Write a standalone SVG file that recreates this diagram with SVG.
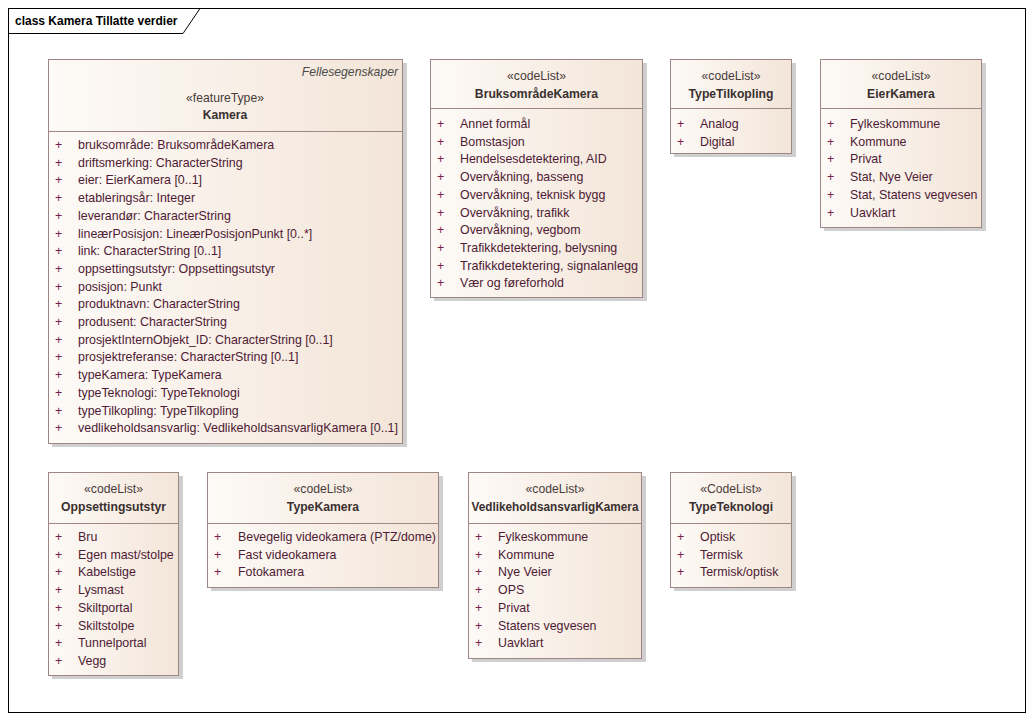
<svg xmlns="http://www.w3.org/2000/svg" width="1034" height="721" viewBox="0 0 1034 721">
<style>
.frame{fill:#ffffff;stroke:#000000;stroke-width:1}
.box{fill:url(#g);stroke:#9e8686;stroke-width:1}
.shadow{fill:#cfcfcf}
.sep{stroke:#9e8686;stroke-width:1}
text{font-family:"Liberation Sans",Arial,sans-serif;font-size:12.4px;fill:#4e1a34}
.title{font-weight:bold;fill:#000000;font-size:12px}
.st{text-anchor:middle;fill:#4a3a3a;font-size:12.2px}
.nm{text-anchor:middle;font-weight:bold;fill:#3a3030;font-size:12.2px}
.it{font-style:italic;text-anchor:end;fill:#4a4a4a;font-size:12.2px}
.pl{fill:#7a1f4a}
</style>
<defs>
<linearGradient id="g" x1="0" y1="0" x2="1" y2="0">
<stop offset="0" stop-color="#fdfaf7"/>
<stop offset="1" stop-color="#f3e5d8"/>
</linearGradient>
</defs>
<rect class="frame" x="8.5" y="8.5" width="1017" height="704"/>
<path d="M8.5 33.5 H183 L200 8.5" fill="none" stroke="#000" stroke-width="1"/>
<text class="title" x="15" y="25">class Kamera Tillatte verdier</text>

<g id="Kamera">
<rect class="shadow" x="52" y="63" width="355" height="384"/>
<rect class="box" x="48.5" y="59.5" width="354" height="384"/>
<line class="sep" x1="48.5" y1="131.5" x2="402.5" y2="131.5"/>
<text class="it" x="398" y="76">Fellesegenskaper</text>
<text class="st" x="225" y="102">«featureType»</text>
<text class="nm" x="225" y="119">Kamera</text>
<text class="pl" x="55" y="149">+</text><text class="pl" x="55" y="166.7">+</text><text class="pl" x="55" y="184.4">+</text><text class="pl" x="55" y="202.1">+</text><text class="pl" x="55" y="219.8">+</text><text class="pl" x="55" y="237.5">+</text><text class="pl" x="55" y="255.2">+</text><text class="pl" x="55" y="272.9">+</text><text class="pl" x="55" y="290.6">+</text><text class="pl" x="55" y="308.3">+</text><text class="pl" x="55" y="326">+</text><text class="pl" x="55" y="343.7">+</text><text class="pl" x="55" y="361.4">+</text><text class="pl" x="55" y="379.1">+</text><text class="pl" x="55" y="396.8">+</text><text class="pl" x="55" y="414.5">+</text><text class="pl" x="55" y="432.2">+</text>
<text x="78" y="149">bruksområde: BruksområdeKamera</text>
<text x="78" y="166.7">driftsmerking: CharacterString</text>
<text x="78" y="184.4">eier: EierKamera [0..1]</text>
<text x="78" y="202.1">etableringsår: Integer</text>
<text x="78" y="219.8">leverandør: CharacterString</text>
<text x="78" y="237.5">lineærPosisjon: LineærPosisjonPunkt [0..*]</text>
<text x="78" y="255.2">link: CharacterString [0..1]</text>
<text x="78" y="272.9">oppsettingsutstyr: Oppsettingsutstyr</text>
<text x="78" y="290.6">posisjon: Punkt</text>
<text x="78" y="308.3">produktnavn: CharacterString</text>
<text x="78" y="326">produsent: CharacterString</text>
<text x="78" y="343.7">prosjektInternObjekt_ID: CharacterString [0..1]</text>
<text x="78" y="361.4">prosjektreferanse: CharacterString [0..1]</text>
<text x="78" y="379.1">typeKamera: TypeKamera</text>
<text x="78" y="396.8">typeTeknologi: TypeTeknologi</text>
<text x="78" y="414.5">typeTilkopling: TypeTilkopling</text>
<text x="78" y="432.2" textLength="320" lengthAdjust="spacingAndGlyphs">vedlikeholdsansvarlig: VedlikeholdsansvarligKamera [0..1]</text>
</g>

<g id="BruksomradeKamera">
<rect class="shadow" x="434" y="63" width="213" height="238"/>
<rect class="box" x="430.5" y="59.5" width="212" height="238"/>
<line class="sep" x1="430.5" y1="108.5" x2="642.5" y2="108.5"/>
<text class="st" x="536.5" y="80">«codeList»</text>
<text class="nm" x="536.5" y="98">BruksområdeKamera</text>
<text class="pl" x="437" y="128">+</text><text x="460" y="128">Annet formål</text>
<text class="pl" x="437" y="145.7">+</text><text x="460" y="145.7">Bomstasjon</text>
<text class="pl" x="437" y="163.4">+</text><text x="460" y="163.4">Hendelsesdetektering, AID</text>
<text class="pl" x="437" y="181.1">+</text><text x="460" y="181.1">Overvåkning, basseng</text>
<text class="pl" x="437" y="198.8">+</text><text x="460" y="198.8">Overvåkning, teknisk bygg</text>
<text class="pl" x="437" y="216.5">+</text><text x="460" y="216.5">Overvåkning, trafikk</text>
<text class="pl" x="437" y="234.2">+</text><text x="460" y="234.2">Overvåkning, vegbom</text>
<text class="pl" x="437" y="251.9">+</text><text x="460" y="251.9">Trafikkdetektering, belysning</text>
<text class="pl" x="437" y="269.6">+</text><text x="460" y="269.6" textLength="178" lengthAdjust="spacingAndGlyphs">Trafikkdetektering, signalanlegg</text>
<text class="pl" x="437" y="287.3">+</text><text x="460" y="287.3">Vær og føreforhold</text>
</g>

<g id="TypeTilkopling">
<rect class="shadow" x="674" y="63" width="122" height="94"/>
<rect class="box" x="670.5" y="59.5" width="121" height="94"/>
<line class="sep" x1="670.5" y1="108.5" x2="791.5" y2="108.5"/>
<text class="st" x="731" y="80">«codeList»</text>
<text class="nm" x="731" y="98">TypeTilkopling</text>
<text class="pl" x="677" y="128">+</text><text x="700" y="128">Analog</text>
<text class="pl" x="677" y="145.7">+</text><text x="700" y="145.7">Digital</text>
</g>

<g id="EierKamera">
<rect class="shadow" x="824" y="63" width="162" height="168"/>
<rect class="box" x="820.5" y="59.5" width="161" height="168"/>
<line class="sep" x1="820.5" y1="108.5" x2="981.5" y2="108.5"/>
<text class="st" x="901" y="80">«codeList»</text>
<text class="nm" x="901" y="98">EierKamera</text>
<text class="pl" x="827" y="128">+</text><text x="850" y="128">Fylkeskommune</text>
<text class="pl" x="827" y="145.7">+</text><text x="850" y="145.7">Kommune</text>
<text class="pl" x="827" y="163.4">+</text><text x="850" y="163.4">Privat</text>
<text class="pl" x="827" y="181.1">+</text><text x="850" y="181.1">Stat, Nye Veier</text>
<text class="pl" x="827" y="198.8">+</text><text x="850" y="198.8">Stat, Statens vegvesen</text>
<text class="pl" x="827" y="216.5">+</text><text x="850" y="216.5">Uavklart</text>
</g>

<g id="Oppsettingsutstyr">
<rect class="shadow" x="52" y="476" width="131" height="203"/>
<rect class="box" x="48.5" y="472.5" width="130" height="203"/>
<line class="sep" x1="48.5" y1="523.5" x2="178.5" y2="523.5"/>
<text class="st" x="113.5" y="493">«codeList»</text>
<text class="nm" x="113.5" y="511">Oppsettingsutstyr</text>
<text class="pl" x="55" y="541">+</text><text x="78" y="541">Bru</text>
<text class="pl" x="55" y="558.7">+</text><text x="78" y="558.7">Egen mast/stolpe</text>
<text class="pl" x="55" y="576.4">+</text><text x="78" y="576.4">Kabelstige</text>
<text class="pl" x="55" y="594.1">+</text><text x="78" y="594.1">Lysmast</text>
<text class="pl" x="55" y="611.8">+</text><text x="78" y="611.8">Skiltportal</text>
<text class="pl" x="55" y="629.5">+</text><text x="78" y="629.5">Skiltstolpe</text>
<text class="pl" x="55" y="647.2">+</text><text x="78" y="647.2">Tunnelportal</text>
<text class="pl" x="55" y="664.9">+</text><text x="78" y="664.9">Vegg</text>
</g>

<g id="TypeKamera">
<rect class="shadow" x="211" y="476" width="232" height="115"/>
<rect class="box" x="207.5" y="472.5" width="231" height="115"/>
<line class="sep" x1="207.5" y1="523.5" x2="438.5" y2="523.5"/>
<text class="st" x="323" y="493">«codeList»</text>
<text class="nm" x="323" y="511">TypeKamera</text>
<text class="pl" x="214" y="541">+</text><text x="238" y="541" textLength="198" lengthAdjust="spacingAndGlyphs">Bevegelig videokamera (PTZ/dome)</text>
<text class="pl" x="214" y="558.7">+</text><text x="238" y="558.7">Fast videokamera</text>
<text class="pl" x="214" y="576.4">+</text><text x="238" y="576.4">Fotokamera</text>
</g>

<g id="VedlikeholdsansvarligKamera">
<rect class="shadow" x="472" y="476" width="174" height="186"/>
<rect class="box" x="468.5" y="472.5" width="173" height="186"/>
<line class="sep" x1="468.5" y1="523.5" x2="641.5" y2="523.5"/>
<text class="st" x="555" y="493">«codeList»</text>
<text class="nm" x="555" y="511" textLength="167" lengthAdjust="spacingAndGlyphs">VedlikeholdsansvarligKamera</text>
<text class="pl" x="475" y="541">+</text><text x="498" y="541">Fylkeskommune</text>
<text class="pl" x="475" y="558.7">+</text><text x="498" y="558.7">Kommune</text>
<text class="pl" x="475" y="576.4">+</text><text x="498" y="576.4">Nye Veier</text>
<text class="pl" x="475" y="594.1">+</text><text x="498" y="594.1">OPS</text>
<text class="pl" x="475" y="611.8">+</text><text x="498" y="611.8">Privat</text>
<text class="pl" x="475" y="629.5">+</text><text x="498" y="629.5">Statens vegvesen</text>
<text class="pl" x="475" y="647.2">+</text><text x="498" y="647.2">Uavklart</text>
</g>

<g id="TypeTeknologi">
<rect class="shadow" x="674" y="476" width="122" height="115"/>
<rect class="box" x="670.5" y="472.5" width="121" height="115"/>
<line class="sep" x1="670.5" y1="523.5" x2="791.5" y2="523.5"/>
<text class="st" x="731" y="493">«CodeList»</text>
<text class="nm" x="731" y="511">TypeTeknologi</text>
<text class="pl" x="677" y="541">+</text><text x="700" y="541">Optisk</text>
<text class="pl" x="677" y="558.7">+</text><text x="700" y="558.7">Termisk</text>
<text class="pl" x="677" y="576.4">+</text><text x="700" y="576.4">Termisk/optisk</text>
</g>

<g id="connectors"></g>
</svg>
